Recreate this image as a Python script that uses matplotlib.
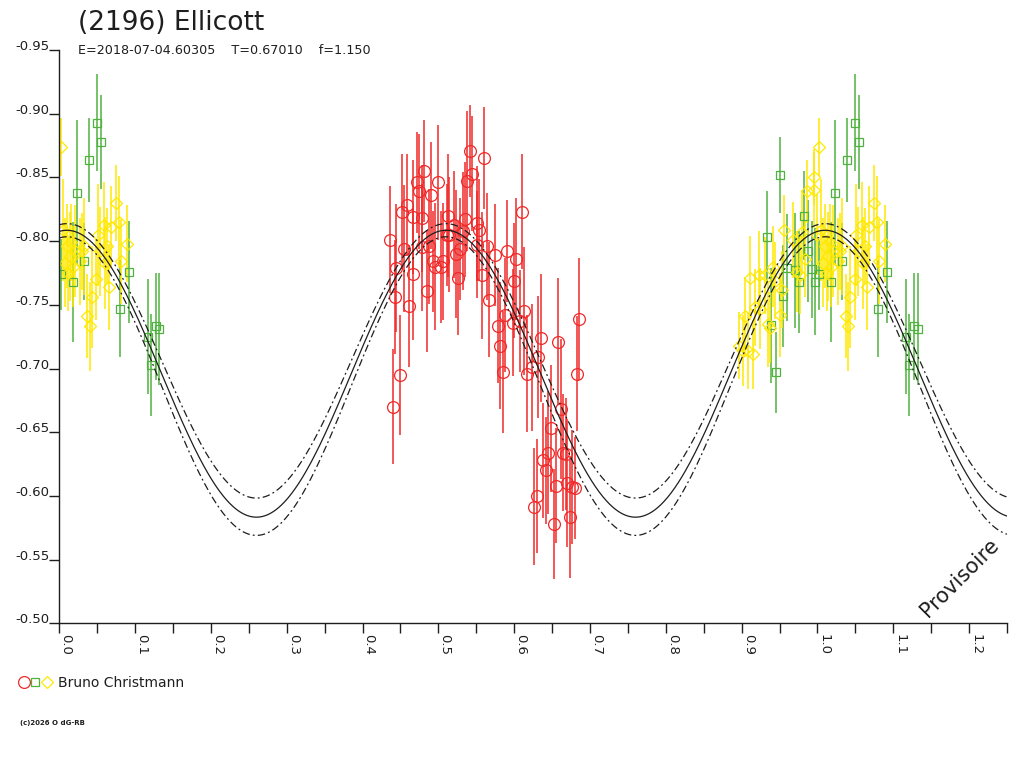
import numpy as np
import matplotlib.pyplot as plt
from matplotlib.lines import Line2D
from matplotlib.legend_handler import HandlerTuple

title = "(2196) Ellicott"
subtitle = "E=2018-07-04.60305    T=0.67010    f=1.150"
observer = "Bruno Christmann"

# session 1 - red circles
red_phase = [0.4363, 0.440, 0.443, 0.444, 0.4495, 0.4525, 0.455, 0.458, 0.4618, 0.466,
             0.467, 0.4715, 0.4745, 0.478, 0.479, 0.481, 0.4847, 0.487, 0.490, 0.4934,
             0.4957, 0.500, 0.5036, 0.5066, 0.511, 0.5124, 0.514, 0.520, 0.523, 0.5256,
             0.5286, 0.532, 0.535, 0.538, 0.542, 0.545, 0.5507, 0.5515, 0.554, 0.557,
             0.5607, 0.564, 0.567, 0.575, 0.579, 0.5814, 0.585, 0.588, 0.590, 0.598,
             0.600, 0.603, 0.608, 0.610, 0.6135, 0.6166, 0.623, 0.626, 0.630, 0.632,
             0.6355, 0.638, 0.642, 0.645, 0.648, 0.652, 0.655, 0.6575, 0.6615, 0.665,
             0.6685, 0.670, 0.673, 0.676, 0.680, 0.6826, 0.686]
red_mag = [-0.801, -0.670, -0.756, -0.779, -0.695, -0.823, -0.794, -0.828, -0.749, -0.774,
           -0.819, -0.846, -0.839, -0.795, -0.818, -0.855, -0.761, -0.796, -0.836, -0.784,
           -0.780, -0.846, -0.780, -0.784, -0.805, -0.820, -0.805, -0.813, -0.790, -0.771,
           -0.7935, -0.808, -0.817, -0.847, -0.871, -0.853, -0.797, -0.814, -0.809, -0.773,
           -0.865, -0.796, -0.754, -0.789, -0.7336, -0.718, -0.697, -0.742, -0.792, -0.736,
           -0.769, -0.786, -0.737, -0.823, -0.745, -0.696, -0.701, -0.5915, -0.600, -0.709,
           -0.724, -0.628, -0.620, -0.634, -0.653, -0.578, -0.608, -0.721, -0.668, -0.634,
           -0.633, -0.610, -0.5836, -0.607, -0.606, -0.696, -0.739]
red_err = [0.042, 0.045, 0.045, 0.050, 0.047, 0.045, 0.050, 0.040, 0.048, 0.052,
           0.045, 0.040, 0.045, 0.050, 0.042, 0.040, 0.048, 0.045, 0.042, 0.040,
           0.050, 0.045, 0.044, 0.046, 0.040, 0.048, 0.045, 0.042, 0.050, 0.045,
           0.040, 0.046, 0.045, 0.055, 0.036, 0.045, 0.042, 0.045, 0.040, 0.050,
           0.040, 0.042, 0.045, 0.040, 0.045, 0.050, 0.048, 0.045, 0.040, 0.042,
           0.045, 0.048, 0.040, 0.045, 0.050, 0.046, 0.050, 0.046, 0.045, 0.048,
           0.050, 0.045, 0.042, 0.048, 0.050, 0.043, 0.045, 0.050, 0.055, 0.046,
           0.044, 0.050, 0.048, 0.045, 0.040, 0.045, 0.048]

# session 2 - green squares
green_phase = [0.002, 0.018, 0.023, 0.033, 0.039, 0.050, 0.055, 0.080, 0.092, 0.117,
               0.121, 0.127, 0.132, 0.934, 0.939, 0.945, 0.950, 0.955, 0.960, 0.971,
               0.976, 0.982, 0.987, 0.993, 0.997]
green_mag = [-0.774, -0.768, -0.838, -0.784, -0.864, -0.893, -0.878, -0.747, -0.776, -0.725,
             -0.703, -0.733, -0.731, -0.803, -0.734, -0.697, -0.852, -0.757, -0.779, -0.777,
             -0.768, -0.820, -0.792, -0.778, -0.768]
green_err = [0.028, 0.047, 0.057, 0.030, 0.033, 0.038, 0.037, 0.038, 0.040, 0.045,
             0.040, 0.042, 0.044, 0.036, 0.045, 0.032, 0.030, 0.040, 0.042, 0.045,
             0.040, 0.035, 0.040, 0.038, 0.042]

# session 3 - yellow diamonds
yellow_phase = [0.002, 0.005, 0.0075, 0.010, 0.012, 0.014, 0.016, 0.018, 0.021, 0.027,
                0.030, 0.032, 0.037, 0.040, 0.043, 0.049, 0.051, 0.054, 0.059, 0.060,
                0.0625, 0.066, 0.068, 0.075, 0.079, 0.081, 0.089,
                0.896, 0.9016, 0.9046, 0.909, 0.911, 0.915, 0.918, 0.9235, 0.924, 0.931,
                0.935, 0.9376, 0.942, 0.944, 0.950, 0.953, 0.956, 0.968, 0.973, 0.977,
                0.979, 0.984, 0.986, 0.995, 0.996, 0.999]
yellow_mag = [-0.874, -0.809, -0.783, -0.796, -0.775, -0.788, -0.799, -0.780, -0.792, -0.784,
              -0.792, -0.796, -0.741, -0.733, -0.756, -0.770, -0.805, -0.792, -0.813, -0.783,
              -0.796, -0.764, -0.811, -0.830, -0.815, -0.784, -0.798,
              -0.718, -0.714, -0.741, -0.714, -0.771, -0.711, -0.748, -0.773, -0.747, -0.773,
              -0.735, -0.732, -0.780, -0.769, -0.742, -0.762, -0.809, -0.801, -0.776, -0.773,
              -0.807, -0.786, -0.839, -0.840, -0.850, -0.805]
yellow_err = [0.023, 0.040, 0.035, 0.033, 0.030, 0.035, 0.030, 0.032, 0.036, 0.034,
              0.030, 0.038, 0.033, 0.035, 0.040, 0.032, 0.040, 0.035, 0.033, 0.036,
              0.030, 0.034, 0.032, 0.030, 0.036, 0.033, 0.030,
              0.026, 0.028, 0.031, 0.030, 0.033, 0.027, 0.030, 0.035, 0.032, 0.030,
              0.034, 0.028, 0.032, 0.030, 0.033, 0.030, 0.027, 0.030, 0.032, 0.030,
              0.033, 0.030, 0.025, 0.030, 0.022, 0.032]

# fourier fit (2nd harmonic) : centre curve and the two error curves
fit_mean = [-0.6959, -0.7060, -0.6862]
fit_amp = [0.1126, 0.1077, 0.1172]
fit_phase0 = 0.01

x_ticks = [0.0, 0.05, 0.1, 0.15, 0.2, 0.25, 0.3, 0.35, 0.4, 0.45, 0.5, 0.55, 0.6,
           0.65, 0.7, 0.75, 0.8, 0.85, 0.9, 0.95, 1.0, 1.05, 1.1, 1.15, 1.2, 1.25]
x_labels = ["0.0", "", "0.1", "", "0.2", "", "0.3", "", "0.4", "", "0.5", "", "0.6",
            "", "0.7", "", "0.8", "", "0.9", "", "1.0", "", "1.1", "", "1.2", ""]
y_ticks = [-0.95, -0.90, -0.85, -0.80, -0.75, -0.70, -0.65, -0.60, -0.55, -0.50]
y_labels = ["-0.95", "-0.90", "-0.85", "-0.80", "-0.75", "-0.70", "-0.65", "-0.60", "-0.55", "-0.50"]

red = '#f02828'
green = '#4fb23e'
yellow = '#ffe800'
ink = '#1e1e1e'

fig = plt.figure(figsize=(10.24, 7.68), dpi=100)
ax = fig.add_axes([59.3 / 1024, 144.7 / 768, 947.7 / 1024, 573.3 / 768])


def draw_session(phase, mag, err, color, marker, ms):
    phase = np.array(phase)
    mag = np.array(mag)
    err = np.array(err)
    for shift in (0, 1):
        x = phase + shift
        keep = (x >= 0) & (x <= 1.25)
        ax.errorbar(x[keep], mag[keep], yerr=err[keep], fmt=marker, mfc='none', mec=color,
                    ecolor=color, ms=ms, mew=0.9, elinewidth=1.1, capsize=0, zorder=2)


draw_session(red_phase, red_mag, red_err, red, 'o', 8.5)
draw_session(green_phase, green_mag, green_err, green, 's', 6)
draw_session(yellow_phase, yellow_mag, yellow_err, yellow, 'D', 5.8)

phi = np.linspace(0, 1.25, 800)
styles = ['-', (0, (6, 2.5, 1.5, 2.5)), (0, (6, 2.5, 1.5, 2.5))]
for m, a, ls in zip(fit_mean, fit_amp, styles):
    ax.plot(phi, m - a * np.cos(4 * np.pi * (phi - fit_phase0)), color=ink, lw=0.9, ls=ls, zorder=3)

ax.set_xlim(0, 1.25)
ax.set_ylim(-0.50, -0.95)
ax.spines['top'].set_visible(False)
ax.spines['right'].set_visible(False)
for s in ['left', 'bottom']:
    ax.spines[s].set_color(ink)
    ax.spines[s].set_linewidth(1.0)

ax.set_xticks(x_ticks)
ax.set_xticklabels(x_labels, rotation=270, ha='left', va='top', fontsize=9.5, color=ink)
ax.set_yticks(y_ticks)
ax.set_yticklabels(y_labels, fontsize=9.5, color=ink)
for lbl in ax.get_yticklabels():
    lbl.set_va('baseline')
ax.tick_params(axis='x', direction='out', length=7, width=1.0, color=ink, pad=1)
ax.tick_params(axis='y', direction='out', length=7, width=1.0, color=ink, pad=0)

ax.text(0.950, 0.079, "Provisoire", transform=ax.transAxes, rotation=45, fontsize=15,
        ha='center', va='center', color=ink)

fig.text(78 / 1024, 1 - 29.5 / 768, title, fontsize=19, va='baseline', color=ink)
fig.text(78 / 1024, 1 - 54 / 768, subtitle, fontsize=9.2, va='baseline', color=ink)
fig.text(20 / 1024, 1 - 723 / 768, "(c)2026 O dG-RB", fontsize=5, weight='bold', va='center', color=ink)

h1 = Line2D([], [], marker='o', ls='none', mfc='none', mec=red, ms=8.5, mew=0.9)
h2 = Line2D([], [], marker='s', ls='none', mfc='none', mec=green, ms=6, mew=0.9)
h3 = Line2D([], [], marker='D', ls='none', mfc='none', mec=yellow, ms=5.8, mew=0.9)
fig.legend(handles=[(h1, h2, h3)], labels=[observer],
           handler_map={tuple: HandlerTuple(ndivide=None, pad=0)},
           loc='center left', bbox_to_anchor=(18 / 1024, 1 - 683 / 768), frameon=False,
           handlelength=2.48, handletextpad=0.4, borderpad=0, borderaxespad=0,
           fontsize=10, labelcolor=ink)

plt.savefig("out.png", dpi=100)
